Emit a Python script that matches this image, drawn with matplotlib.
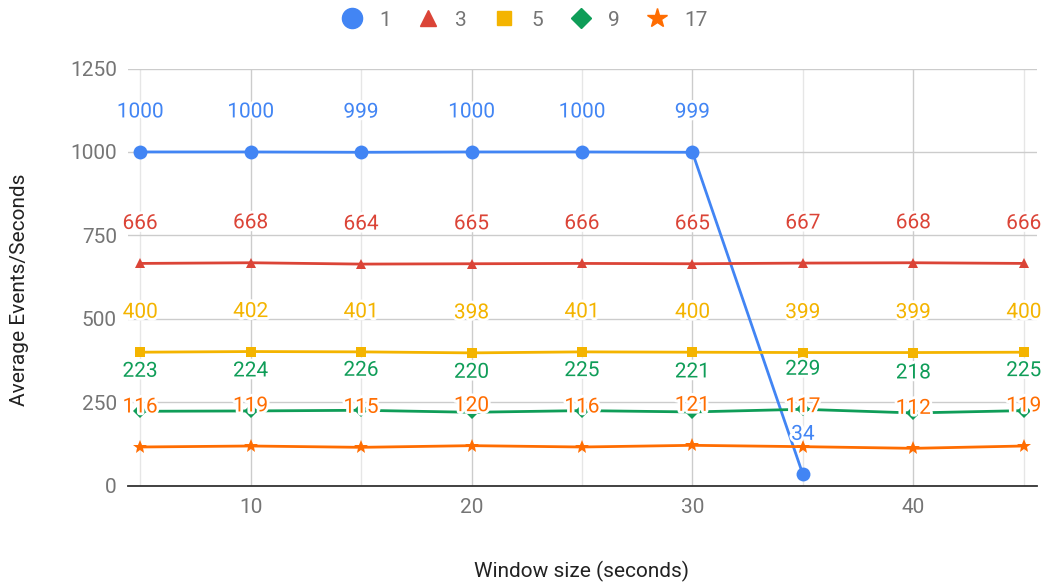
import matplotlib.pyplot as plt
import matplotlib.patheffects as pe
from matplotlib.lines import Line2D

plt.rcParams['font.family'] = ['Roboto', 'DejaVu Sans']

# window sizes (seconds)
window = [5, 10, 15, 20, 25, 30, 35, 40, 45]

# average events/second per series
s1 = [1000, 1000, 999, 1000, 1000, 999, 34]
s3 = [666, 668, 664, 665, 666, 665, 667, 668, 666]
s5 = [400, 402, 401, 398, 401, 400, 399, 399, 400]
s9 = [223, 224, 226, 220, 225, 221, 229, 218, 225]
s17 = [116, 119, 115, 120, 116, 121, 117, 112, 119]

names = ['1', '3', '5', '9', '17']
series = [s1, s3, s5, s9, s17]
colors = ['#4285F4', '#DB4437', '#F4B400', '#0F9D58', '#FF6D01']
markers = ['o', '^', 's', 'D', '*']
msizes = [10, 7.5, 7, 7, 10]

FS = 15

fig = plt.figure(figsize=(10.49, 5.84), dpi=100)
ax = fig.add_axes([0.122, 0.1683, 0.8666, 0.7144])

for vals, c, m, ms in zip(series, colors, markers, msizes):
    ax.plot(window[:len(vals)], vals, color=c, lw=2, marker=m, ms=ms,
            markeredgewidth=0, zorder=3)

halo = [pe.withStroke(linewidth=4, foreground='white')]
for vals, c in zip(series, colors):
    for x, y in zip(window, vals):
        ax.annotate(str(y), (x, y), xytext=(0, 40), textcoords='offset pixels',
                    ha='center', va='center', color=c, fontsize=FS,
                    path_effects=halo, zorder=5)

ax.set_xlim(4.45, 45.6)
ax.set_ylim(0, 1250)
ax.set_yticks([0, 250, 500, 750, 1000, 1250])
ax.set_xticks([10, 20, 30, 40])
ax.set_xticks([5, 15, 25, 35, 45], minor=True)
ax.grid(True, which='major', color='#cccccc', lw=1)
ax.grid(True, which='minor', axis='x', color='#e6e6e6', lw=1)
ax.set_axisbelow(True)
ax.tick_params(which='both', length=0, labelsize=FS, labelcolor='#757575')
ax.tick_params(axis='y', pad=8)
ax.tick_params(axis='x', pad=9)
for side in ['top', 'right', 'left']:
    ax.spines[side].set_visible(False)
ax.spines['bottom'].set_color('#333333')
ax.spines['bottom'].set_linewidth(1.3)
ax.spines['bottom'].set_zorder(2)

fig.text(0.554, 1 - 571 / 584, 'Window size (seconds)', fontsize=FS,
         color='#222222', ha='center', va='center')
fig.text(20 / 1049, 1 - 290 / 584, 'Average Events/Seconds', fontsize=FS,
         color='#222222', ha='center', va='center', rotation=90)

handles = [Line2D([], [], ls='none', marker=m, color=c, ms=s * 1.45)
           for m, c, s in zip(markers, colors, msizes)]
fig.legend(handles, names, loc='center', bbox_to_anchor=(0.497, 1 - 20 / 584),
           ncol=5, frameon=False, fontsize=FS, labelcolor='#757575',
           handletextpad=0.5, columnspacing=1.0, handlelength=1.6)

fig.savefig('out.png', dpi=100)
